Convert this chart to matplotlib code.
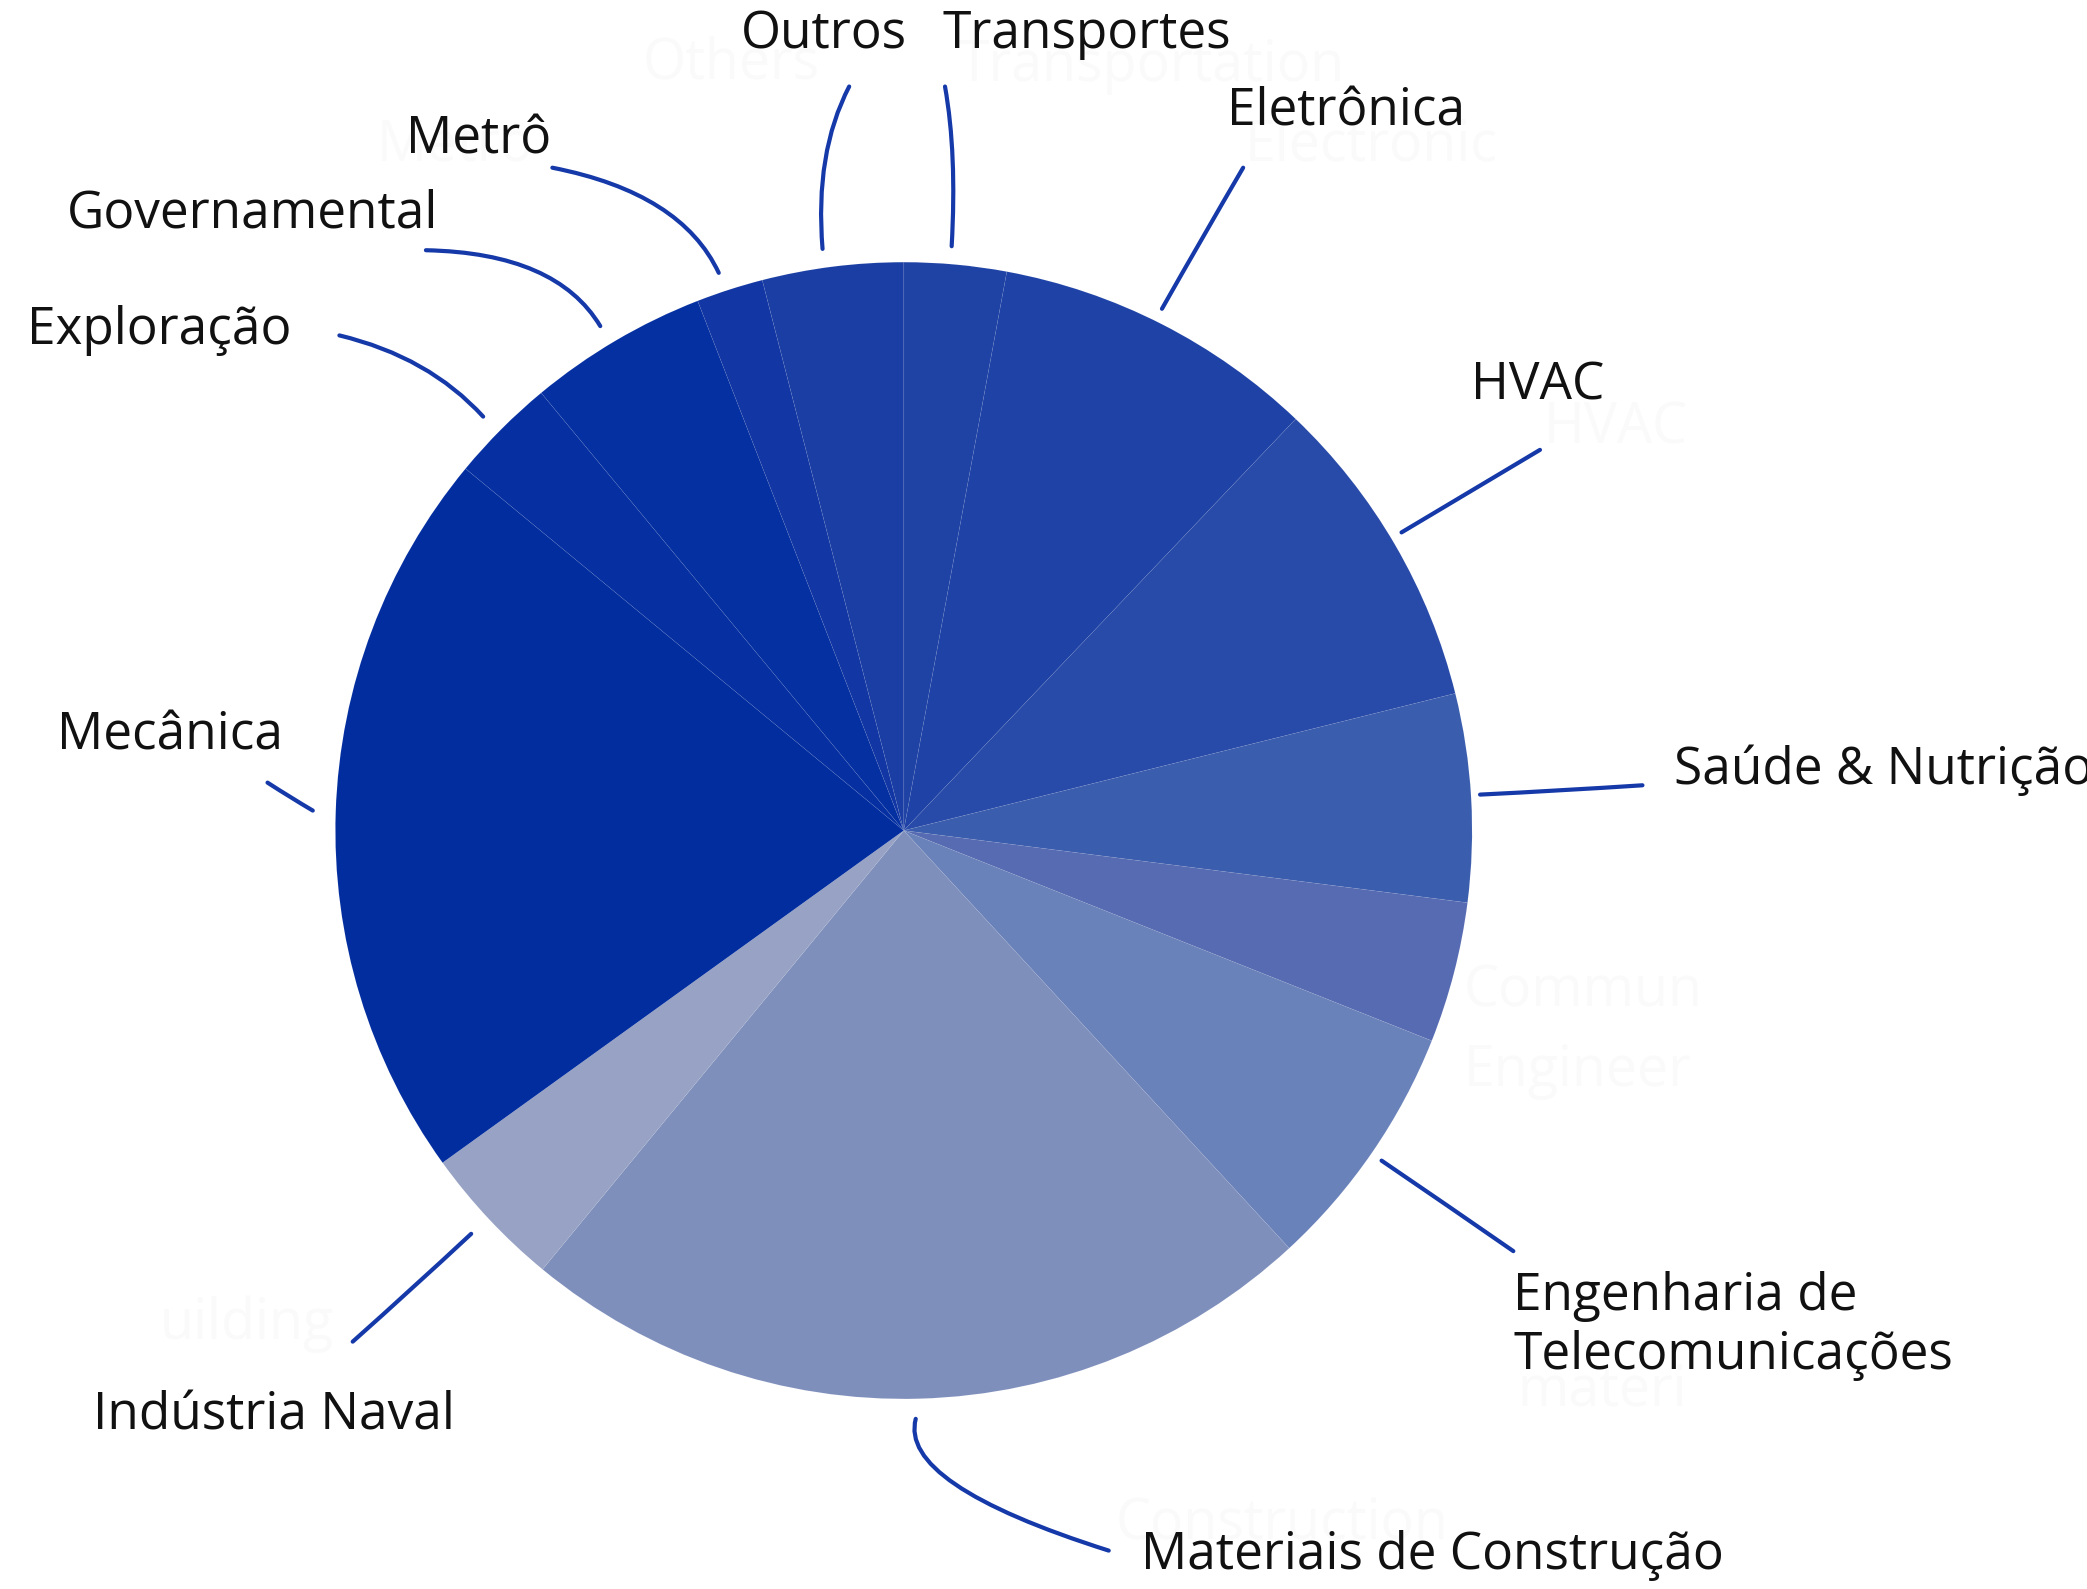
import matplotlib
matplotlib.use("Agg")
import matplotlib.pyplot as plt
from matplotlib.path import Path
from matplotlib.patches import PathPatch

# ---------------- data (clockwise from 12 o'clock) ----------------
categories = ["Transportes", "Eletrônica", "HVAC", "Saúde & Nutrição", "",
              "Engenharia de\nTelecomunicações", "Materiais de Construção",
              "Indústria Naval", "Mecânica", "Exploração", "Governamental",
              "Metrô", "Outros"]
values = [2.9, 9.2, 9.0, 5.9, 4.0, 7.1, 22.8, 4.1, 20.9, 3.0, 5.1, 1.9, 4.0]
colors = ["#1f42a5", "#1e42a6", "#284aa8", "#3b5dae", "#566bb2", "#6a82ba",
          "#7e8fbc", "#97a2c4", "#022d9f", "#0630a2", "#0530a2", "#1236a3",
          "#1a3ea3"]
ghost_labels = ["Others", "Transportation", "Electronic", "HVAC", "Metro",
                "Commun", "Engineer", "materi", "uilding", "Construction"]

W, H = 2087, 1589
S = W / 1568.0           # reference shown at 1568 px wide


def P(x, y):
    """convert reference (shrunk) pixel coords to data coords"""
    return (x * S, H - y * S)


fig = plt.figure(figsize=(W / 100, H / 100), dpi=100)
ax = fig.add_axes([0, 0, 1, 1])

cx, cy = P(679, 624)
R = 427 * S
ax.pie(values, colors=colors, startangle=90, counterclock=False,
       center=(cx, cy), radius=R,
       wedgeprops=dict(edgecolor=(1, 1, 1, 0.05), linewidth=0.6))
ax.set_aspect("equal")
ax.set_xlim(0, W)
ax.set_ylim(0, H)
ax.axis("off")

FONT = "Open Sans"

# faint ghost labels (background artefacts)
ghost_pos = [(483, 48), (720, 50), (935, 110), (1160, 322), (283, 110),
             (1100, 745), (1100, 805), (1140, 1045), (120, 995), (838, 1145)]
for txt, (gx, gy) in zip(ghost_labels, ghost_pos):
    ax.text(*P(gx, gy), txt, fontsize=40, family=FONT, color="#fafafa",
            ha="left", va="center", zorder=0)

# label positions (reference px: left x, centre y) and leader lines
label_pos = {
    "Outros": (557, 26),
    "Transportes": (708, 26),
    "Eletrônica": (922, 84),
    "HVAC": (1105, 290),
    "Saúde & Nutrição": (1258, 579),
    "Engenharia de\nTelecomunicações": (1137, 996),
    "Materiais de Construção": (857, 1169),
    "Indústria Naval": (70, 1064),
    "Mecânica": (43, 553),
    "Exploração": (20, 248),
    "Governamental": (50, 161),
    "Metrô": (305, 105),
}
leaders = {
    "Outros": [(618, 187), (612, 115), (638, 65)],
    "Transportes": [(715, 185), (719, 115), (710, 65)],
    "Eletrônica": [(873, 232), (903, 179), (934, 126)],
    "HVAC": [(1053, 400), (1105, 369), (1157, 338)],
    "Saúde & Nutrição": [(1112, 597), (1173, 594), (1234, 590)],
    "Engenharia de\nTelecomunicações": [(1038, 872), (1088, 906), (1137, 940)],
    "Materiais de Construção": [(688, 1066), (675, 1115), (833, 1165)],
    "Indústria Naval": [(354, 927), (310, 968), (265, 1008)],
    "Mecânica": [(235, 609), (218, 599), (201, 588)],
    "Exploração": [(363, 313), (322, 268), (255, 252)],
    "Governamental": [(451, 245), (418, 190), (320, 188)],
    "Metrô": [(540, 205), (512, 145), (415, 126)],
}

for lab in categories:
    if not lab:
        continue
    lx, ly = label_pos[lab]
    ax.text(*P(lx, ly), lab, fontsize=37, family=FONT, color="#111111",
            ha="left", va="center", linespacing=1.2, zorder=5)
    pts = [P(*p) for p in leaders[lab]]
    path = Path(pts, [Path.MOVETO, Path.CURVE3, Path.CURVE3])
    ax.add_patch(PathPatch(path, fill=False, edgecolor="#1539a8",
                           linewidth=3.0, capstyle="round", zorder=4))

fig.savefig("out.png", dpi=100, facecolor="white")
